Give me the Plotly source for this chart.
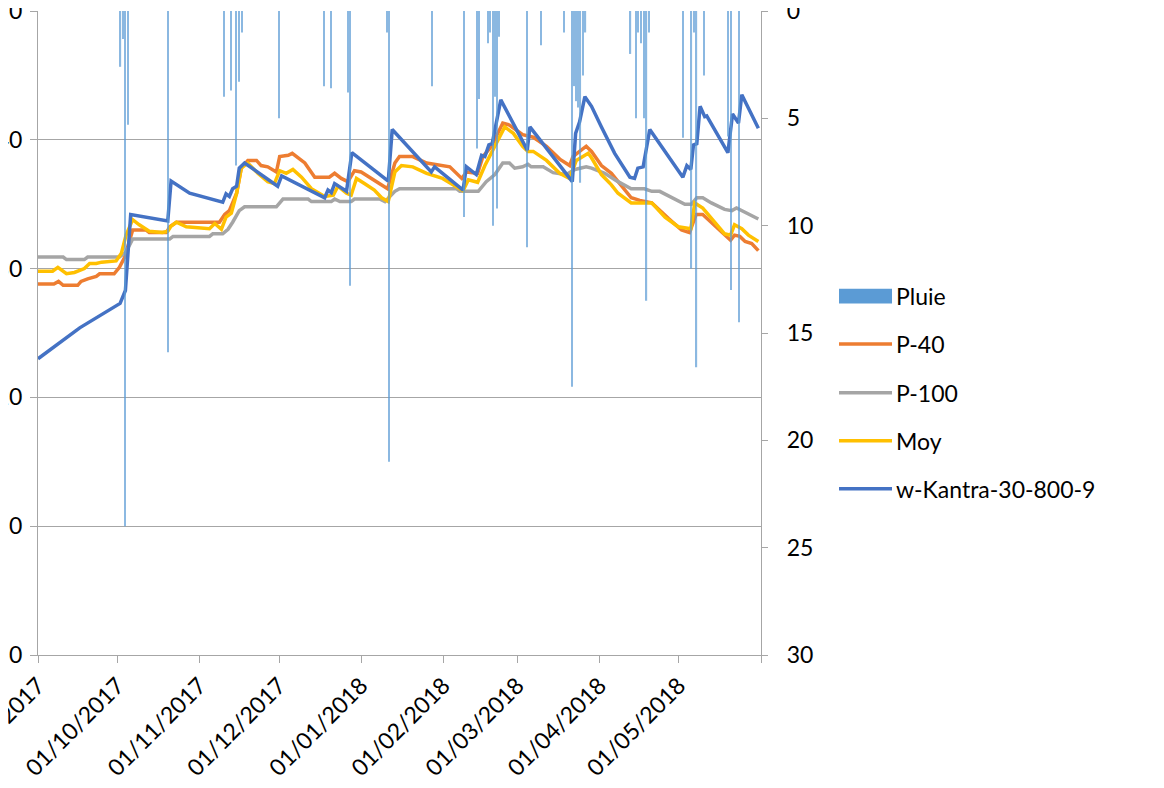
import plotly.graph_objects as go

# ---------------- data ----------------
rain_dates = ["2017-10-02 04:00", "2017-10-03 01:00", "2017-10-03 23:00", "2017-10-05 02:00", "2017-10-20 01:00",
              "2017-11-10 02:00", "2017-11-13 00:00", "2017-11-14 21:00", "2017-11-15 21:00", "2017-11-17 00:00",
              "2017-11-30 23:00", "2017-12-17 21:00", "2017-12-20 18:00", "2017-12-27 01:00", "2017-12-27 23:00",
              "2018-01-10 18:00", "2018-01-11 10:00", "2018-01-27 18:00", "2018-02-08 18:00", "2018-02-13 18:00",
              "2018-02-14 12:00", "2018-02-17 22:00", "2018-02-18 17:00", "2018-02-19 17:00", "2018-02-20 12:00",
              "2018-02-21 07:00", "2018-02-22 02:00", "2018-03-04 19:00", "2018-03-09 20:00", "2018-03-18 15:00",
              "2018-03-21 19:00", "2018-03-22 14:00", "2018-03-23 08:00", "2018-03-23 22:00", "2018-03-24 20:00",
              "2018-03-25 17:00", "2018-03-26 18:00", "2018-04-12 18:00", "2018-04-14 18:00", "2018-04-15 14:00",
              "2018-04-16 15:00", "2018-04-17 18:00", "2018-04-18 19:00", "2018-04-19 18:00", "2018-05-02 14:00",
              "2018-05-05 18:00", "2018-05-06 15:00", "2018-05-07 16:00", "2018-05-10 13:00", "2018-05-19 14:00",
              "2018-05-20 15:00", "2018-05-23 16:00"]
rain_vals = [2.6, 1.3, 24.0, 5.3, 15.9,
             4.0, 3.7, 7.2, 3.3, 1.0,
             5.0, 3.5, 3.6, 3.8, 12.8,
             1.0, 21.0, 3.5, 9.6, 6.4,
             4.1, 1.5, 1.0, 10.0, 4.0,
             9.2, 1.2, 11.0, 1.6, 1.0,
             17.5, 3.5, 4.2, 4.5, 8.0,
             3.0, 1.0, 2.0, 5.0, 1.0,
             1.5, 5.0, 13.5, 1.0, 5.9,
             12.0, 1.0, 16.6, 3.0, 5.85,
             13.0, 14.5]

p40_dates = ["2017-09-01", "2017-09-07", "2017-09-08 18:00", "2017-09-10 12:00", "2017-09-16",
             "2017-09-17 06:00", "2017-09-19 18:00", "2017-09-23", "2017-09-24 06:00", "2017-09-29 18:00",
             "2017-10-01 18:00", "2017-10-03 18:00", "2017-10-06 18:00", "2017-10-11 18:00", "2017-10-13",
             "2017-10-19 12:00", "2017-10-20 18:00", "2017-10-23 06:00", "2017-11-08 12:00", "2017-11-10 12:00",
             "2017-11-12 06:00", "2017-11-13 12:00", "2017-11-15", "2017-11-16 18:00", "2017-11-19 06:00",
             "2017-11-22 12:00", "2017-11-24 06:00", "2017-11-26 18:00", "2017-11-30", "2017-12-01 06:00",
             "2017-12-04 12:00", "2017-12-06", "2017-12-07 12:00", "2017-12-10 18:00", "2017-12-14 12:00",
             "2017-12-20", "2017-12-22", "2017-12-24 12:00", "2017-12-27", "2017-12-29 12:00",
             "2018-01-01", "2018-01-05", "2018-01-08 18:00", "2018-01-11", "2018-01-13 18:00",
             "2018-01-15 12:00", "2018-01-20 12:00", "2018-01-25 18:00", "2018-02-03 12:00", "2018-02-08",
             "2018-02-09 18:00", "2018-02-14", "2018-02-16", "2018-02-19 06:00", "2018-02-23 12:00",
             "2018-02-26", "2018-03-03", "2018-03-07", "2018-03-12", "2018-03-17",
             "2018-03-20 18:00", "2018-03-22", "2018-03-24 12:00", "2018-03-27", "2018-03-29",
             "2018-04-01 18:00", "2018-04-05 12:00", "2018-04-09 06:00", "2018-04-13", "2018-04-16 06:00",
             "2018-04-20 18:00", "2018-04-27", "2018-05-02", "2018-05-05", "2018-05-07 12:00",
             "2018-05-10", "2018-05-13 06:00", "2018-05-18 06:00", "2018-05-20 12:00", "2018-05-22",
             "2018-05-24", "2018-05-26", "2018-05-28 12:00", "2018-05-31"]
p40_vals = [28.8, 28.8, 29.0, 28.7, 28.7,
            29.0, 29.2, 29.4, 29.6, 29.6,
            30.1, 30.9, 33.0, 33.0, 32.8,
            32.8, 33.25, 33.6, 33.6, 34.2,
            34.5, 35.1, 35.85, 37.8, 38.4,
            38.4, 38.0, 37.9, 37.5, 38.7,
            38.8, 38.95, 38.7, 38.2, 37.1,
            37.1, 37.4, 37.0, 36.75, 37.6,
            37.5, 37.0, 36.5, 36.2, 38.2,
            38.7, 38.7, 38.2, 37.9, 37.0,
            37.5, 37.4, 38.7, 39.5, 41.3,
            41.15, 40.4, 40.2, 39.5, 38.5,
            38.0, 38.7, 39.1, 39.5, 39.1,
            38.0, 37.4, 36.4, 35.5, 35.3,
            35.1, 33.9, 33.0, 32.8, 34.2,
            34.2, 33.6, 32.6, 32.2, 32.6,
            32.5, 32.1, 31.95, 31.4]

p100_dates = ["2017-09-01", "2017-09-10 12:00", "2017-09-11 18:00", "2017-09-18 12:00", "2017-09-19 18:00",
              "2017-10-01 18:00", "2017-10-04 06:00", "2017-10-06 18:00", "2017-10-20 18:00", "2017-10-22",
              "2017-11-04 18:00", "2017-11-06", "2017-11-09 18:00", "2017-11-11 18:00", "2017-11-13 12:00",
              "2017-11-16", "2017-11-18", "2017-11-30", "2017-12-02 12:00", "2017-12-12",
              "2017-12-13 06:00", "2017-12-20 18:00", "2017-12-22", "2017-12-24", "2017-12-28 06:00",
              "2017-12-29 12:00", "2018-01-08", "2018-01-10", "2018-01-13 18:00", "2018-01-15 12:00",
              "2018-02-06", "2018-02-07 06:00", "2018-02-14 06:00", "2018-02-17 06:00", "2018-02-20 12:00",
              "2018-02-23 12:00", "2018-02-26", "2018-02-28", "2018-03-03", "2018-03-05",
              "2018-03-06 06:00", "2018-03-10 18:00", "2018-03-14 12:00", "2018-03-19 12:00", "2018-03-22 18:00",
              "2018-03-27", "2018-03-29", "2018-04-03", "2018-04-08", "2018-04-13",
              "2018-04-18", "2018-04-20 18:00", "2018-04-23 18:00", "2018-04-28 06:00", "2018-05-03 06:00",
              "2018-05-05 18:00", "2018-05-07 18:00", "2018-05-10", "2018-05-13 06:00", "2018-05-18 06:00",
              "2018-05-21", "2018-05-22 18:00", "2018-05-27 06:00", "2018-05-31"]
p100_vals = [30.9, 30.9, 30.7, 30.7, 30.9,
             30.9, 31.3, 32.3, 32.3, 32.5,
             32.5, 32.7, 32.7, 33.05, 33.6,
             34.5, 34.8, 34.8, 35.4, 35.4,
             35.2, 35.2, 35.4, 35.2, 35.2,
             35.4, 35.4, 35.2, 36.0, 36.2,
             36.2, 36.0, 36.0, 36.75, 37.3,
             38.2, 38.2, 37.8, 37.9, 38.1,
             37.9, 37.9, 37.45, 37.3, 37.7,
             37.9, 37.8, 37.4, 36.75, 36.2,
             36.2, 36.0, 36.0, 35.5, 35.0,
             35.0, 35.5, 35.5, 35.1, 34.6,
             34.5, 34.7, 34.2, 33.85]

moy_dates = ["2017-09-01", "2017-09-06 12:00", "2017-09-08 12:00", "2017-09-11 18:00", "2017-09-14 18:00",
             "2017-09-18 12:00", "2017-09-20 12:00", "2017-09-23", "2017-09-25", "2017-09-30 12:00",
             "2017-10-02 12:00", "2017-10-04 06:00", "2017-10-06 18:00", "2017-10-09 06:00", "2017-10-13",
             "2017-10-18", "2017-10-20", "2017-10-21 06:00", "2017-10-23 06:00", "2017-10-27",
             "2017-11-04 18:00", "2017-11-06 18:00", "2017-11-09 06:00", "2017-11-11", "2017-11-13",
             "2017-11-15", "2017-11-16 18:00", "2017-11-19 06:00", "2017-11-23", "2017-11-26 18:00",
             "2017-11-29 06:00", "2017-12-01 06:00", "2017-12-03 18:00", "2017-12-06 06:00", "2017-12-09 12:00",
             "2017-12-13 06:00", "2017-12-18 06:00", "2017-12-21 12:00", "2017-12-23 06:00", "2017-12-26 12:00",
             "2017-12-28 06:00", "2017-12-30 06:00", "2018-01-02 06:00", "2018-01-06", "2018-01-08 18:00",
             "2018-01-11 06:00", "2018-01-13 18:00", "2018-01-16 06:00", "2018-01-20 12:00", "2018-01-25 18:00",
             "2018-01-31 18:00", "2018-02-08 12:00", "2018-02-10 12:00", "2018-02-14", "2018-02-16 18:00",
             "2018-02-19 18:00", "2018-02-24 06:00", "2018-02-27 12:00", "2018-03-03", "2018-03-05",
             "2018-03-07", "2018-03-12", "2018-03-17", "2018-03-20 18:00", "2018-03-23 06:00",
             "2018-03-25 18:00", "2018-03-27 18:00", "2018-03-29", "2018-04-01 18:00", "2018-04-05 12:00",
             "2018-04-08", "2018-04-13", "2018-04-20 18:00", "2018-04-25 18:00", "2018-04-30 18:00",
             "2018-05-05 12:00", "2018-05-07", "2018-05-10", "2018-05-13 06:00", "2018-05-18 06:00",
             "2018-05-20 12:00", "2018-05-22", "2018-05-24 18:00", "2018-05-27 06:00", "2018-05-31"]
moy_vals = [29.8, 29.8, 30.1, 29.6, 29.7,
            30.0, 30.4, 30.4, 30.5, 30.6,
            31.2, 32.6, 33.8, 33.4, 32.9,
            32.8, 32.9, 33.3, 33.6, 33.25,
            33.1, 33.5, 33.05, 34.0, 34.3,
            35.85, 37.8, 38.2, 37.4, 36.75,
            36.6, 37.6, 37.4, 37.7, 37.1,
            36.2, 35.6, 35.7, 36.4, 35.85,
            35.7, 37.0, 36.6, 36.1, 35.5,
            35.2, 37.5, 38.0, 37.9, 37.4,
            37.0, 36.05, 36.9, 36.7, 38.0,
            39.2, 41.0, 40.5, 39.5, 39.1,
            39.1, 38.4, 37.4, 37.0, 38.4,
            38.7, 38.95, 38.6, 37.3, 36.5,
            35.85, 35.1, 35.1, 34.0, 33.25,
            33.1, 35.1, 34.7, 33.9, 32.7,
            32.6, 33.4, 33.1, 32.6, 32.1]

kantra_dates = ["2017-09-01", "2017-09-16 18:00", "2017-10-02", "2017-10-04", "2017-10-06",
                "2017-10-20", "2017-10-21 06:00", "2017-10-28 06:00", "2017-11-09 18:00", "2017-11-11",
                "2017-11-12 06:00", "2017-11-13 12:00", "2017-11-15", "2017-11-16", "2017-11-18",
                "2017-11-30 12:00", "2017-12-02", "2017-12-18 06:00", "2017-12-19 12:00", "2017-12-20 18:00",
                "2017-12-22", "2017-12-26 12:00", "2017-12-28 12:00", "2018-01-11 06:00", "2018-01-12 18:00",
                "2018-01-27 12:00", "2018-01-28 18:00", "2018-02-08 12:00", "2018-02-09 18:00", "2018-02-13 12:00",
                "2018-02-15 12:00", "2018-02-16 18:00", "2018-02-18 06:00", "2018-02-19 12:00", "2018-02-22 18:00",
                "2018-03-04 18:00", "2018-03-05 18:00", "2018-03-21 18:00", "2018-03-23", "2018-03-24 12:00",
                "2018-03-26 12:00", "2018-03-29", "2018-04-01 18:00", "2018-04-06 18:00", "2018-04-12 12:00",
                "2018-04-14 06:00", "2018-04-15 12:00", "2018-04-17 12:00", "2018-04-20", "2018-05-02 12:00",
                "2018-05-04", "2018-05-05 12:00", "2018-05-06 12:00", "2018-05-07 18:00", "2018-05-09",
                "2018-05-10 18:00", "2018-05-11 12:00", "2018-05-19 12:00", "2018-05-21 06:00", "2018-05-23 12:00",
                "2018-05-24 18:00", "2018-05-31"]
kantra_vals = [23.0, 25.4, 27.3, 28.3, 34.2,
               33.7, 36.8, 35.85, 35.15, 35.8,
               35.6, 36.2, 36.4, 37.8, 38.2,
               36.4, 37.2, 35.5, 36.1, 35.9,
               36.6, 36.0, 39.0, 36.8, 40.8,
               37.5, 37.9, 36.1, 37.9, 37.3,
               38.8, 38.7, 39.6, 39.7, 43.1,
               39.2, 41.0, 36.75, 40.5, 41.4,
               43.35, 42.6, 41.0, 38.95, 37.1,
               37.0, 37.8, 37.9, 40.8, 37.1,
               38.0, 37.7, 39.6, 39.7, 42.6,
               41.8, 41.85, 39.0, 42.0, 41.3,
               43.5, 40.9]

tick_dates = ["2017-09-01", "2017-10-01", "2017-11-01", "2017-12-01", "2018-01-01",
              "2018-02-01", "2018-03-01", "2018-04-01", "2018-05-01", "2018-06-01"]
tick_labels = ["01/09/2017", "01/10/2017", "01/11/2017", "01/12/2017", "01/01/2018",
               "01/02/2018", "01/03/2018", "01/04/2018", "01/05/2018", ""]
left_ticks = [0, 10, 20, 30, 40, 50]
right_ticks = [0, 5, 10, 15, 20, 25, 30]

series_names = ["Pluie", "P-40", "P-100", "Moy", "w-Kantra-30-800-9"]
series_colors = ["#5B9BD5", "#ED7D31", "#A5A5A5", "#FFC000", "#4472C4"]

# ---------------- figure ----------------
FONT = "Lato, 'Open Sans', sans-serif"
FSIZE = 23
GRID = "#A6A6A6"
DAY_MS = 86400000

fig = go.Figure()
line_sets = [(p40_dates, p40_vals), (p100_dates, p100_vals), (moy_dates, moy_vals), (kantra_dates, kantra_vals)]
for (xd, yv), name, col in zip(line_sets, series_names[1:], series_colors[1:]):
    fig.add_trace(go.Scatter(x=xd, y=yv, name=name, mode="lines",
                             line=dict(color=col, width=3.5), yaxis="y", showlegend=False))

fig.add_trace(go.Bar(x=rain_dates, y=rain_vals, name=series_names[0], yaxis="y2",
                     width=0.45 * DAY_MS, marker=dict(color=series_colors[0], line=dict(width=0)),
                     opacity=0.7, showlegend=False))

# manual legend (swatches + text), to the right of the plot
leg_y = [0.5574, 0.4829, 0.4073, 0.3328, 0.2582]
sx0, sx1, tx = 1.1079, 1.1812, 1.184
shapes = [dict(type="rect", xref="paper", yref="paper", x0=sx0, x1=sx1,
               y0=leg_y[0] - 0.0115, y1=leg_y[0] + 0.0115,
               fillcolor=series_colors[0], line=dict(width=0))]
for yy, col in zip(leg_y[1:], series_colors[1:]):
    shapes.append(dict(type="line", xref="paper", yref="paper", x0=sx0, x1=sx1, y0=yy, y1=yy,
                       line=dict(color=col, width=3.5)))
annotations = [dict(text=n, xref="paper", yref="paper", x=tx, y=yy, xanchor="left", yanchor="middle",
                    showarrow=False, font=dict(family=FONT, size=FSIZE, color="#000000"))
               for n, yy in zip(series_names, leg_y)]

fig.update_layout(
    width=1164, height=788,
    margin=dict(l=30, r=411, t=3, b=141, pad=0, autoexpand=False),
    paper_bgcolor="white", plot_bgcolor="white",
    font=dict(family=FONT, size=FSIZE, color="#000000"),
    showlegend=False,
    barmode="overlay",
    shapes=shapes,
    annotations=annotations,
    xaxis=dict(type="date", range=["2017-09-01", "2018-06-01"], automargin=False,
               tickmode="array", tickvals=tick_dates, ticktext=tick_labels, ticklabeloverflow="allow",
               tickangle=-45, ticks="outside", ticklen=7, tickcolor=GRID, tickwidth=1,
               showline=True, linecolor=GRID, linewidth=1.2, showgrid=False, zeroline=False,
               tickfont=dict(family=FONT, size=FSIZE, color="#000000")),
    yaxis=dict(range=[0, 50], tickmode="array", tickvals=left_ticks, automargin=False,
               ticklabeloverflow="allow",
               showgrid=True, gridcolor=GRID, gridwidth=1.2,
               showline=True, linecolor=GRID, linewidth=1.2, zeroline=False,
               ticks="outside", ticklen=7, tickcolor=GRID, ticklabelstandoff=3,
               tickfont=dict(family=FONT, size=FSIZE, color="#000000")),
    yaxis2=dict(range=[30, 0], overlaying="y", side="right", tickmode="array", tickvals=right_ticks,
                automargin=False, ticklabeloverflow="allow",
                showgrid=False, showline=True, linecolor=GRID, linewidth=1.2, zeroline=False,
                ticks="outside", ticklen=6, tickcolor=GRID, ticklabelstandoff=14,
                tickfont=dict(family=FONT, size=FSIZE, color="#000000")),
)

fig.write_html("out.html")
